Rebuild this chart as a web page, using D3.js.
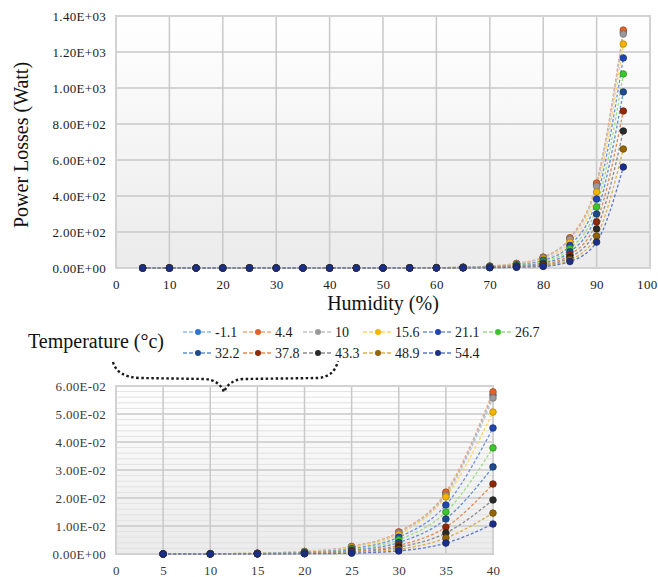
<!DOCTYPE html>
<html>
<head>
<meta charset="utf-8">
<script src="https://cdn.jsdelivr.net/npm/d3@7"></script>
<style>
  body { margin: 0; background: #fff; }
  svg { display: block; font-family: "Liberation Serif", "Times New Roman", serif; }
</style>
</head>
<body>
<div id="chart"></div>
<script>
// Humidity steps (%)
const humidity = [5, 10, 15, 20, 25, 30, 35, 40, 45, 50, 55, 60, 65, 70, 75, 80, 85, 90, 95];

// Temperature series (°c)
const temperatures = ['-1.1', '4.4', '10', '15.6', '21.1', '26.7', '32.2', '37.8', '43.3', '48.9', '54.4'];

// Power losses (Watt), one array per temperature
const loss_m1_1 = [0.00003, 0.0001, 0.0003, 0.0009, 0.0026, 0.0077, 0.0215, 0.0568, 0.135, 0.322, 0.768, 1.83, 4.36, 10.4, 24.8, 59, 165, 465, 1310];
const loss_4_4  = [0.00003, 0.0001, 0.00031, 0.00092, 0.0027, 0.0079, 0.0221, 0.0579, 0.138, 0.33, 0.79, 1.88, 4.5, 10.7, 25.5, 61, 168, 472, 1322];
const loss_10   = [0.00003, 0.00009, 0.00028, 0.00085, 0.0025, 0.0075, 0.021, 0.0557, 0.132, 0.315, 0.749, 1.78, 4.24, 10.1, 24, 57, 160, 455, 1300];
const loss_15_6 = [0.000025, 0.00008, 0.00025, 0.00076, 0.0023, 0.007, 0.0204, 0.0507, 0.12, 0.283, 0.667, 1.57, 3.71, 8.77, 20.7, 49, 143, 422, 1244];
const loss_21_1 = [0.00002, 0.00006, 0.0002, 0.00063, 0.0019, 0.006, 0.0175, 0.045, 0.106, 0.249, 0.585, 1.37, 3.23, 7.6, 17.9, 42, 125, 383, 1167];
const loss_26_7 = [0.000015, 0.00005, 0.00016, 0.0005, 0.0016, 0.0051, 0.015, 0.0379, 0.0887, 0.208, 0.486, 1.14, 2.66, 6.22, 14.6, 34, 107, 339, 1078];
const loss_32_2 = [0.000012, 0.00004, 0.00012, 0.0004, 0.0013, 0.0041, 0.0125, 0.0311, 0.0726, 0.17, 0.396, 0.924, 2.16, 5.04, 11.8, 27.5, 90, 300, 978];
const loss_37_8 = [0.000008, 0.00003, 0.00009, 0.00029, 0.00095, 0.0031, 0.0096, 0.025, 0.058, 0.135, 0.313, 0.725, 1.68, 3.9, 9.05, 21, 73, 256, 872];
const loss_43_3 = [0.000005, 0.00002, 0.00006, 0.00021, 0.0007, 0.0024, 0.0075, 0.0193, 0.0447, 0.104, 0.24, 0.555, 1.29, 2.98, 6.9, 16, 59, 217, 761];
const loss_48_9 = [0.000003, 0.000012, 0.00004, 0.00014, 0.0005, 0.0017, 0.0057, 0.0146, 0.0338, 0.0782, 0.181, 0.419, 0.969, 2.24, 5.19, 12, 46, 178, 661];
const loss_54_4 = [0.000002, 0.000007, 0.000025, 0.00009, 0.0003, 0.0011, 0.0039, 0.0107, 0.025, 0.058, 0.134, 0.31, 0.72, 1.68, 3.9, 9, 36, 144, 561];

const seriesValues = [loss_m1_1, loss_4_4, loss_10, loss_15_6, loss_21_1, loss_26_7, loss_32_2, loss_37_8, loss_43_3, loss_48_9, loss_54_4];

// tick values
const xTicksTop = [0, 10, 20, 30, 40, 50, 60, 70, 80, 90, 100];
const yTicksTop = [0, 200, 400, 600, 800, 1000, 1200, 1400];
const xTicksBottom = [0, 5, 10, 15, 20, 25, 30, 35, 40];
const yTicksBottom = [0, 0.01, 0.02, 0.03, 0.04, 0.05, 0.06];

// marker and line colours
const markerColors = ['#2f74d0', '#e2622a', '#9a9a9a', '#f4b400', '#1f45b0', '#3ec42c', '#1d4a8c', '#8e2a08', '#2a2a2a', '#946400', '#1c2f86'];
const lineColors   = ['#8dbbe8', '#f2a67a', '#c4c4c4', '#ffd466', '#6f90dc', '#9fdc86', '#5f8fd0', '#e28a54', '#8a8a8a', '#dcae4c', '#5c78cc'];

const W = 658, H = 577;
const svg = d3.select('#chart').append('svg')
    .attr('width', W)
    .attr('height', H);

const defs = svg.append('defs');
const grad = defs.append('linearGradient')
    .attr('id', 'plotBg')
    .attr('x1', 0).attr('y1', 0).attr('x2', 0).attr('y2', 1);
grad.append('stop').attr('offset', '0%').attr('stop-color', '#ffffff');
grad.append('stop').attr('offset', '100%').attr('stop-color', '#ebebeb');

// scientific label like Excel: 1.40E+03
function sci(v) {
    const parts = v.toExponential(2).split('e');
    const n = +parts[1];
    return parts[0] + 'E' + (n < 0 ? '-' : '+') + String(Math.abs(n)).padStart(2, '0');
}

const series = temperatures.map((t, i) => ({
    name: t,
    points: humidity.map((h, j) => ({ x: h, y: seriesValues[i][j] })),
    marker: markerColors[i],
    line: lineColors[i]
}));

function drawPanel(opts) {
    const x = d3.scaleLinear().domain(opts.xDomain).range([opts.left, opts.right]);
    const y = d3.scaleLinear().domain(opts.yDomain).range([opts.bottom, opts.top]);
    const g = svg.append('g');

    g.append('rect')
        .attr('x', opts.left)
        .attr('y', opts.top)
        .attr('width', opts.right - opts.left)
        .attr('height', opts.bottom - opts.top)
        .attr('fill', 'url(#plotBg)');

    // minor horizontal grid
    if (opts.minorY) {
        g.selectAll('.minor-y')
            .data(opts.minorY.filter(v => !opts.yTicks.some(t => Math.abs(t - v) < 1e-9)))
            .enter()
            .append('line')
            .attr('x1', opts.left).attr('x2', opts.right)
            .attr('y1', d => y(d)).attr('y2', d => y(d))
            .attr('stroke', '#e2e2e2')
            .attr('stroke-width', 1);
    }

    // major grid
    g.selectAll('.grid-y')
        .data(opts.yTicks)
        .enter()
        .append('line')
        .attr('x1', opts.left).attr('x2', opts.right)
        .attr('y1', d => y(d)).attr('y2', d => y(d))
        .attr('stroke', '#c9c9c9')
        .attr('stroke-width', 1.5);

    g.selectAll('.grid-x')
        .data(opts.xTicks)
        .enter()
        .append('line')
        .attr('x1', d => x(d)).attr('x2', d => x(d))
        .attr('y1', opts.top).attr('y2', opts.bottom)
        .attr('stroke', '#c9c9c9')
        .attr('stroke-width', 1.5);

    g.append('rect')
        .attr('x', opts.left)
        .attr('y', opts.top)
        .attr('width', opts.right - opts.left)
        .attr('height', opts.bottom - opts.top)
        .attr('fill', 'none')
        .attr('stroke', '#d2d2d2')
        .attr('stroke-width', 2);

    // axes
    const yAxis = g.append('g')
        .attr('transform', `translate(${opts.left},0)`)
        .call(d3.axisLeft(y).tickValues(opts.yTicks).tickFormat(sci).tickSize(0).tickPadding(10));
    const xAxis = g.append('g')
        .attr('transform', `translate(0,${opts.bottom})`)
        .call(d3.axisBottom(x).tickValues(opts.xTicks).tickFormat(d3.format('d')).tickSize(0).tickPadding(12));

    [yAxis, xAxis].forEach(a => {
        a.attr('font-family', '"Liberation Serif", serif').attr('font-size', 13);
        a.select('.domain').remove();
        a.selectAll('text')
            .style('letter-spacing', '0.3px')
            .attr('fill', opts.tickColor);
    });

    // last humidity label sits against the page edge
    if (opts.right > 600) {
        xAxis.selectAll('text')
            .filter(d => d === opts.xDomain[1])
            .attr('text-anchor', 'end')
            .attr('x', W - 1 - opts.right);
    }

    // lines + markers
    const line = d3.line()
        .x(d => x(d.x))
        .y(d => y(d.y))
        .curve(d3.curveMonotoneX);

    series.forEach(s => {
        const pts = s.points.filter(p => p.x <= opts.xMaxData);
        g.append('path')
            .datum(pts)
            .attr('d', line)
            .attr('fill', 'none')
            .attr('stroke', s.line)
            .attr('stroke-width', 1.3)
            .attr('stroke-dasharray', '3,2');
    });

    series.forEach(s => {
        const pts = s.points.filter(p => p.x <= opts.xMaxData);
        g.selectAll(null)
            .data(pts)
            .enter()
            .append('circle')
            .attr('cx', d => x(d.x))
            .attr('cy', d => y(d.y))
            .attr('r', 3.3)
            .attr('fill', s.marker)
            .attr('stroke', d3.color(s.marker).darker(0.8))
            .attr('stroke-width', 0.8);
    });
}

// upper chart: whole humidity range
drawPanel({
    left: 116, right: 650, top: 16, bottom: 268,
    xDomain: [0, 100], yDomain: [0, 1400],
    xTicks: xTicksTop, yTicks: yTicksTop,
    xMaxData: 100, tickColor: '#1a1a1a'
});

// lower chart: zoom on 5..40 %
drawPanel({
    left: 116, right: 493, top: 386, bottom: 554,
    xDomain: [0, 40], yDomain: [0, 0.06],
    xTicks: xTicksBottom, yTicks: yTicksBottom,
    minorY: d3.range(0, 0.0601, 0.002),
    xMaxData: 40, tickColor: '#3a3a3a'
});

// axis titles
svg.append('text')
    .attr('transform', 'translate(28,145) rotate(-90)')
    .attr('text-anchor', 'middle')
    .style('font-size', '20px')
    .attr('fill', '#111')
    .text('Power Losses (Watt)');

svg.append('text')
    .attr('x', 383)
    .attr('y', 310)
    .attr('text-anchor', 'middle')
    .style('font-size', '20px')
    .attr('fill', '#111')
    .text('Humidity (%)');

svg.append('text')
    .attr('x', 28)
    .attr('y', 348)
    .style('font-size', '20px')
    .attr('fill', '#111')
    .text('Temperature (°c)');

// legend, 6 per row
const legend = svg.append('g');
series.forEach((s, i) => {
    const col = i % 6, row = Math.floor(i / 6);
    const item = legend.append('g')
        .attr('transform', `translate(${183 + col * 60},${332 + row * 21})`);
    item.append('line')
        .attr('x1', 0).attr('x2', 28)
        .attr('stroke', s.line)
        .attr('stroke-width', 1.6)
        .attr('stroke-dasharray', '4,2');
    item.append('circle')
        .attr('cx', 15).attr('r', 3)
        .attr('fill', s.marker);
    item.append('text')
        .attr('x', 32)
        .attr('dy', '0.35em')
        .style('font-size', '14px')
        .attr('fill', '#1a1a1a')
        .text(s.name);
});

// dotted brace linking legend to the lower chart
svg.append('path')
    .attr('d', 'M113,362 Q117,377 140,378 L205,379 Q219,380 224,392 Q229,380 243,379 L318,378 Q334,377 338,361')
    .attr('fill', 'none')
    .attr('stroke', '#1a1a1a')
    .attr('stroke-width', 2.4)
    .attr('stroke-dasharray', '2.5,2.5');
</script>
</body>
</html>
